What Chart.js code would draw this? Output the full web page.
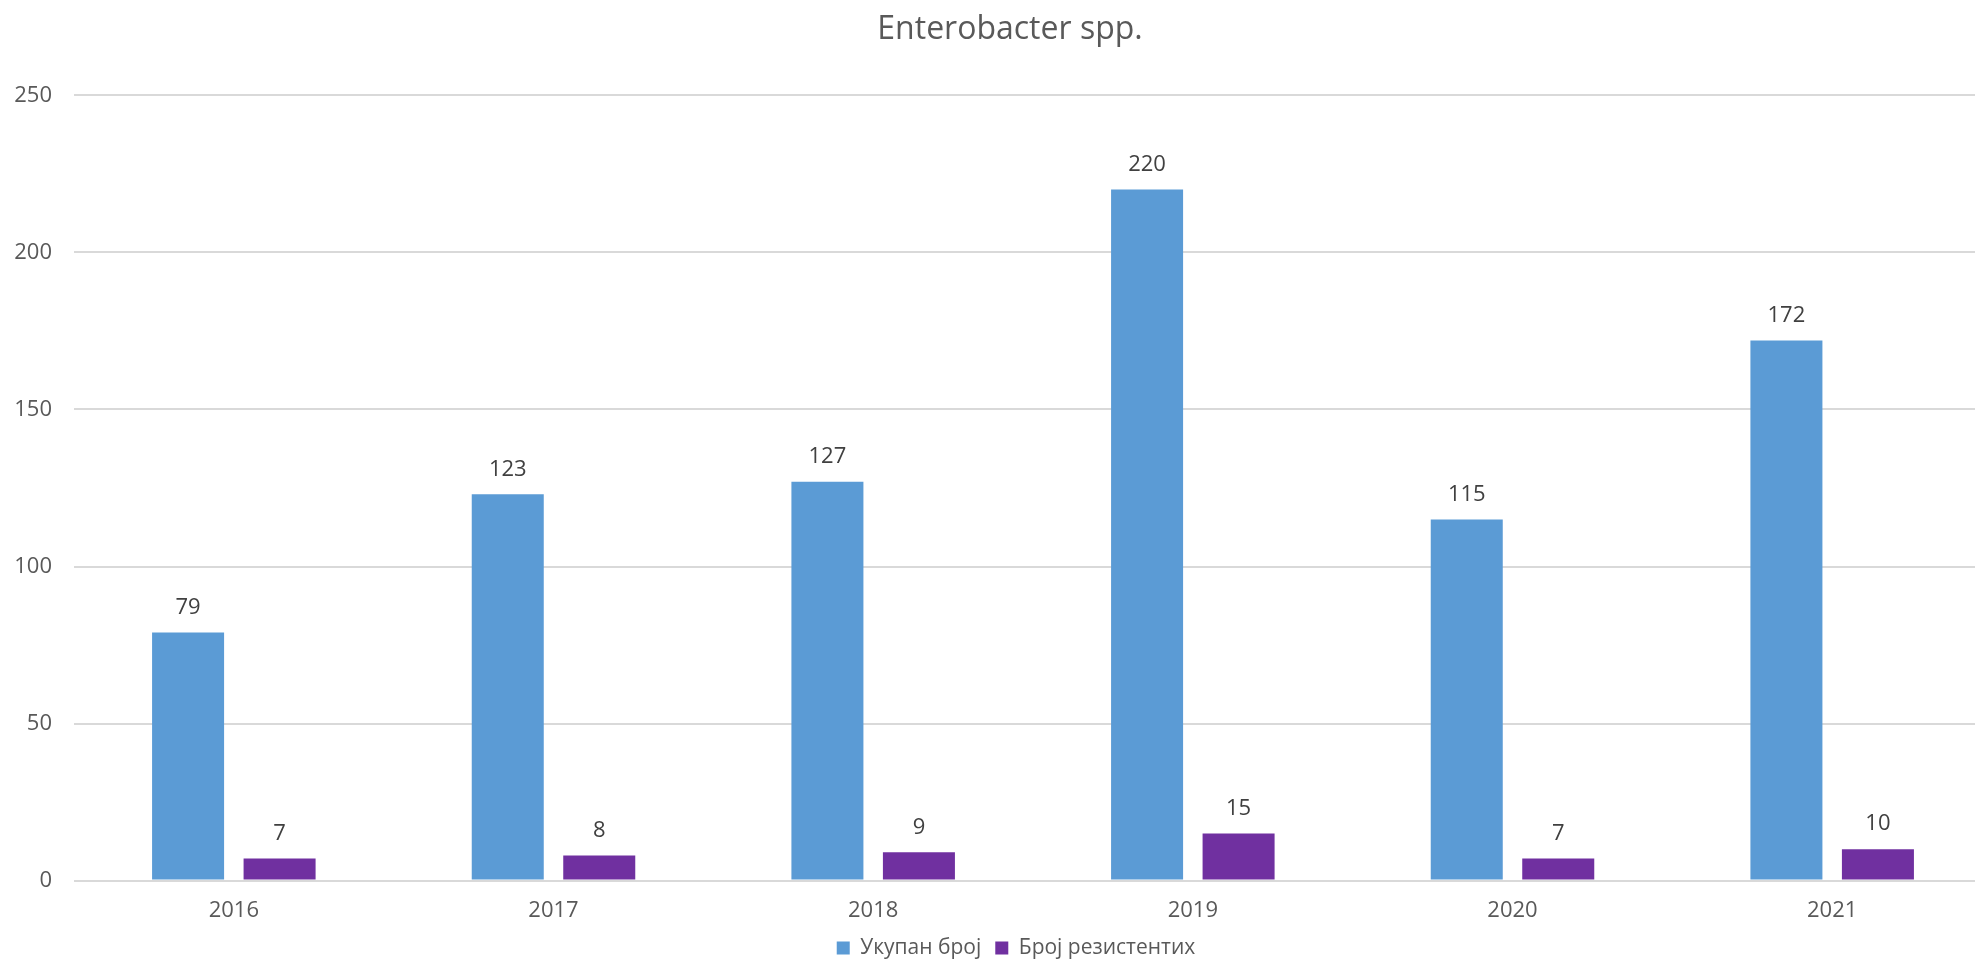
<!DOCTYPE html>
<html>
<head>
<meta charset="utf-8">
<script src="https://cdn.jsdelivr.net/npm/chart.js@4.4.0/dist/chart.umd.min.js"></script>
<style>
  html, body { margin: 0; padding: 0; background: #ffffff; overflow: hidden; width: 1975px; height: 960px; }
  #wrap { position: relative; width: 2020px; height: 960px; }
</style>
</head>
<body>
<div id="wrap"><canvas id="chart"></canvas></div>
<script>
// Years on the category axis
const years = ['2016', '2017', '2018', '2019', '2020', '2021'];
// Total isolates per year
const totalCount = [79, 123, 127, 220, 115, 172];
// Resistant isolates per year
const resistantCount = [7, 8, 9, 15, 7, 10];
// Series names
const seriesNames = ['Укупан број', 'Број резистентих'];
const chartTitle = 'Enterobacter spp.';

const FONT = "'Open Sans', 'Noto Sans', sans-serif";
const TEXT = '#595959';

// Writes each bar's value above it
const valueLabels = {
  id: 'valueLabels',
  afterDatasetsDraw(chart) {
    const ctx = chart.ctx;
    ctx.save();
    ctx.font = '22px ' + FONT;
    ctx.fillStyle = '#404040';
    ctx.textAlign = 'center';
    ctx.textBaseline = 'middle';
    chart.data.datasets.forEach((ds, i) => {
      const meta = chart.getDatasetMeta(i);
      meta.data.forEach((bar, j) => {
        ctx.fillText(String(ds.data[j]), bar.x, bar.y - 25);
      });
    });
    ctx.restore();
  }
};

// Tightens the legend block and centres title and legend over the plotting region
const centreBlocks = {
  id: 'centreBlocks',
  beforeLayout(chart) {
    const lg = chart.legend;
    if (lg && !lg._tightened) {
      const fit = lg.fit.bind(lg);
      lg.fit = function () { fit(); this.height -= 8.6; };
      lg._tightened = true;
    }
  },
  afterLayout(chart) {
    if (chart.titleBlock) { chart.titleBlock.left += 14; chart.titleBlock.right += 14; }
    if (chart.legend) { chart.legend.left += 20; chart.legend.right += 20; }
  }
};

new Chart(document.getElementById('chart'), {
  type: 'bar',
  data: {
    labels: years,
    datasets: [
      { label: seriesNames[0], data: totalCount, backgroundColor: '#5B9BD5' },
      { label: seriesNames[1], data: resistantCount, backgroundColor: '#7030A0' }
    ]
  },
  options: {
    responsive: true,
    maintainAspectRatio: false,
    animation: false,
    categoryPercentage: 0.5725,
    barPercentage: 0.787,
    layout: { padding: { left: 0, right: 28, top: 0, bottom: 0 } },
    plugins: {
      title: {
        display: true,
        text: chartTitle,
        color: TEXT,
        font: { family: FONT, size: 32, weight: 'normal' },
        padding: { top: 11, bottom: 46 }
      },
      legend: {
        position: 'bottom',
        labels: {
          color: TEXT,
          font: { family: FONT, size: 21 },
          boxWidth: 13,
          boxHeight: 13,
          padding: 14
        }
      },
      tooltip: { enabled: false }
    },
    scales: {
      x: {
        grid: { display: false, drawTicks: false },
        border: { display: false },
        ticks: { color: TEXT, font: { family: FONT, size: 22 }, padding: 17 },
        afterFit(scale) { scale.height = 43; }
      },
      y: {
        min: 0,
        max: 250,
        ticks: { stepSize: 50, color: TEXT, font: { family: FONT, size: 22 }, padding: 22 },
        grid: { color: '#D9D9D9', lineWidth: 2, drawTicks: false },
        border: { display: false },
        afterFit(scale) { scale.width = 74; }
      }
    }
  },
  plugins: [valueLabels, centreBlocks]
});
</script>
</body>
</html>
